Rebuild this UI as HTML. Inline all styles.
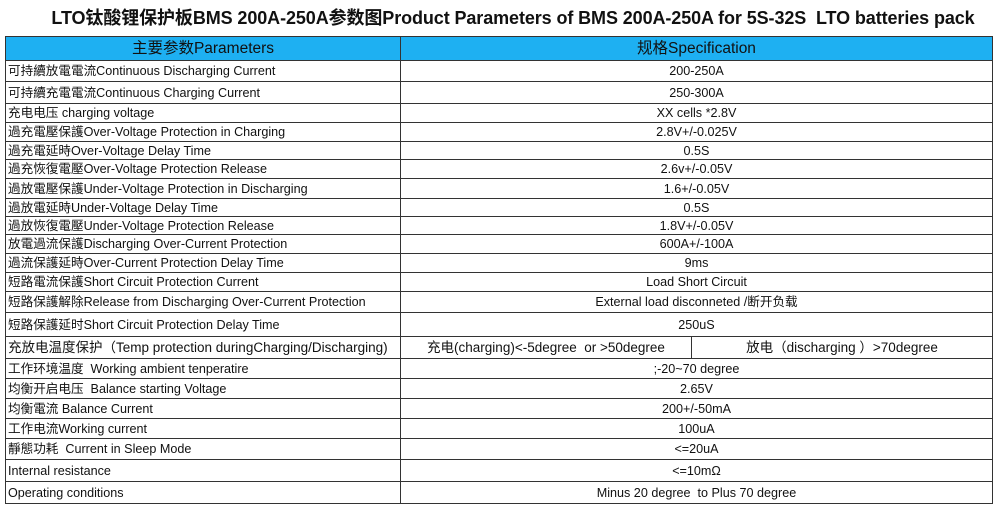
<!DOCTYPE html><html><head><meta charset="utf-8"><style>
body{margin:0;width:1000px;height:513px;background:#fff;overflow:hidden;font-family:"Liberation Sans","Noto Sans CJK SC",sans-serif;color:#111}
.t{position:absolute;left:0;top:4px;width:1026px;text-align:center;font-weight:bold;font-size:18px;letter-spacing:-0.1px}
table{position:absolute;left:5px;top:36px;width:988px;border-collapse:collapse;font-size:12.6px}
td{border:1px solid #333;padding:0 2px;white-space:nowrap;line-height:14px}
td.v{text-align:center}
tr.h td{background:#1eb0f2;font-size:15.5px;text-align:center}
</style></head><body>
<div class="t">LTO钛酸锂保护板BMS 200A-250A参数图Product Parameters of BMS 200A-250A for 5S-32S&nbsp; LTO batteries pack</div>
<table>
<colgroup><col style="width:395px"><col style="width:291px"><col></colgroup>
<tr class="h" style="height:24px"><td>主要参数Parameters</td><td colspan="2">规格Specification</td></tr>
<tr style="height:21px"><td>可持續放電電流Continuous Discharging Current</td><td class="v" colspan="2">200-250A</td></tr>
<tr style="height:22px"><td>可持續充電電流Continuous Charging Current</td><td class="v" colspan="2">250-300A</td></tr>
<tr style="height:19px"><td>充电电压 charging voltage</td><td class="v" colspan="2">XX cells *2.8V</td></tr>
<tr style="height:19px"><td>過充電壓保護Over-Voltage Protection in Charging</td><td class="v" colspan="2">2.8V+/-0.025V</td></tr>
<tr style="height:18px"><td>過充電延時Over-Voltage Delay Time</td><td class="v" colspan="2">0.5S</td></tr>
<tr style="height:19px"><td>過充恢復電壓Over-Voltage Protection Release</td><td class="v" colspan="2">2.6v+/-0.05V</td></tr>
<tr style="height:20px"><td>過放電壓保護Under-Voltage Protection in Discharging</td><td class="v" colspan="2">1.6+/-0.05V</td></tr>
<tr style="height:18px"><td>過放電延時Under-Voltage Delay Time</td><td class="v" colspan="2">0.5S</td></tr>
<tr style="height:18px"><td>過放恢復電壓Under-Voltage Protection Release</td><td class="v" colspan="2">1.8V+/-0.05V</td></tr>
<tr style="height:19px"><td>放電過流保護Discharging Over-Current Protection</td><td class="v" colspan="2">600A+/-100A</td></tr>
<tr style="height:19px"><td>過流保護延時Over-Current Protection Delay Time</td><td class="v" colspan="2">9ms</td></tr>
<tr style="height:19px"><td>短路電流保護Short Circuit Protection Current</td><td class="v" colspan="2">Load Short Circuit</td></tr>
<tr style="height:21px"><td>短路保護解除Release from Discharging Over-Current Protection</td><td class="v" colspan="2">External load disconneted /断开负载</td></tr>
<tr style="height:24px"><td>短路保護延时Short Circuit Protection Delay Time</td><td class="v" colspan="2">250uS</td></tr>
<tr style="height:22px;font-size:13.5px"><td>充放电温度保护（Temp protection duringCharging/Discharging)</td><td class="v">充电(charging)&lt;-5degree&nbsp; or &gt;50degree</td><td class="v">放电（discharging ）&gt;70degree</td></tr>
<tr style="height:20px"><td>工作环境温度&nbsp; Working ambient tenperatire</td><td class="v" colspan="2">;-20~70 degree</td></tr>
<tr style="height:20px"><td>均衡开启电压&nbsp; Balance starting Voltage</td><td class="v" colspan="2">2.65V</td></tr>
<tr style="height:20px"><td>均衡電流 Balance Current</td><td class="v" colspan="2">200+/-50mA</td></tr>
<tr style="height:20px"><td>工作电流Working current</td><td class="v" colspan="2">100uA</td></tr>
<tr style="height:21px"><td>靜態功耗&nbsp; Current in Sleep Mode</td><td class="v" colspan="2">&lt;=20uA</td></tr>
<tr style="height:22px"><td>Internal resistance</td><td class="v" colspan="2">&lt;=10mΩ</td></tr>
<tr style="height:22px"><td>Operating conditions</td><td class="v" colspan="2">Minus 20 degree&nbsp; to Plus 70 degree</td></tr>
</table>
</body></html>
